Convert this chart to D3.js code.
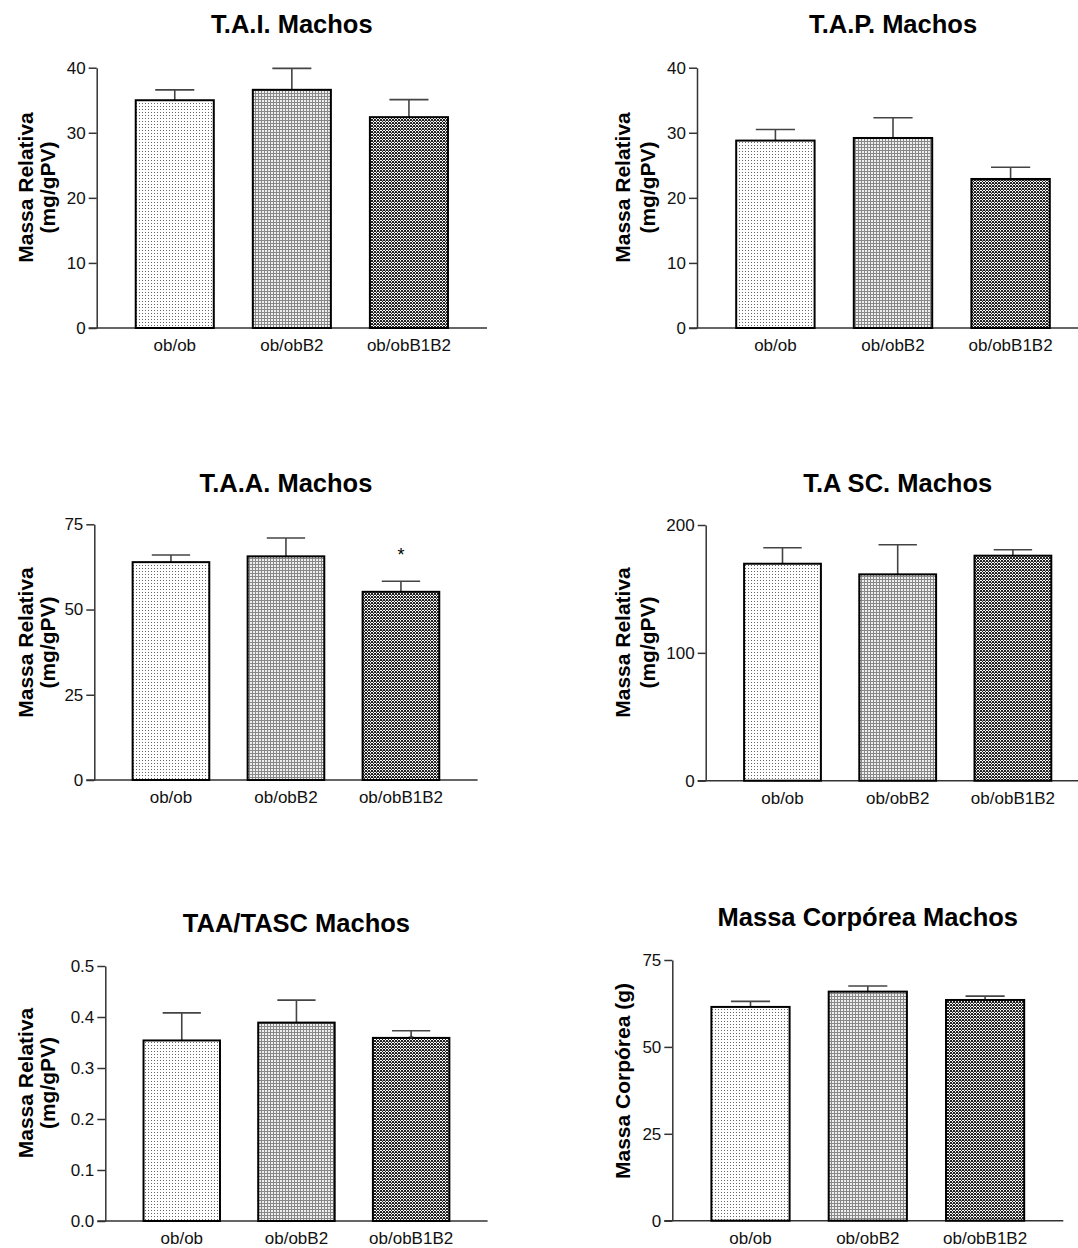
<!DOCTYPE html>
<html>
<head>
<meta charset="utf-8">
<script src="https://cdn.jsdelivr.net/npm/d3@7"></script>
<style>
  html, body { margin: 0; padding: 0; background: #fff; }
  svg { display: block; font-family: Arial, "Liberation Sans", sans-serif; }
</style>
</head>
<body>
<svg id="chart" width="1078" height="1248"></svg>
<script>
  // ===== 数据 =====
  var categories = ['ob/ob', 'ob/obB2', 'ob/obB1B2'];

  var taiMean = [35.0, 36.6, 32.4];
  var taiErr = [1.6, 3.3, 2.7];
  var taiTicks = [0, 10, 20, 30, 40];

  var tapMean = [28.8, 29.2, 22.9];
  var tapErr = [1.7, 3.1, 1.8];
  var tapTicks = [0, 10, 20, 30, 40];

  var taaMean = [63.9, 65.6, 55.2];
  var taaErr = [2.1, 5.4, 3.1];
  var taaTicks = [0, 25, 50, 75];
  var taaMarks = ['', '', '*'];

  var tascMean = [169.7, 161.4, 176.0];
  var tascErr = [12.5, 23.2, 4.7];
  var tascTicks = [0, 100, 200];

  var ratioMean = [0.354, 0.389, 0.359];
  var ratioErr = [0.054, 0.044, 0.014];
  var ratioTicks = [0, 0.1, 0.2, 0.3, 0.4, 0.5];

  var bodyMean = [61.5, 65.9, 63.5];
  var bodyErr = [1.6, 1.6, 1.1];
  var bodyTicks = [0, 25, 50, 75];

  var panels = [
    { title: 'T.A.I. Machos', mean: taiMean, err: taiErr, ticks: taiTicks, fmt: d3.format('d'),
      ylabel: ['Massa Relativa', '(mg/gPV)'] },
    { title: 'T.A.P. Machos', mean: tapMean, err: tapErr, ticks: tapTicks, fmt: d3.format('d'),
      ylabel: ['Massa Relativa', '(mg/gPV)'] },
    { title: 'T.A.A. Machos', mean: taaMean, err: taaErr, ticks: taaTicks, fmt: d3.format('d'),
      ylabel: ['Massa Relativa', '(mg/gPV)'], marks: taaMarks },
    { title: 'T.A SC. Machos', mean: tascMean, err: tascErr, ticks: tascTicks, fmt: d3.format('d'),
      ylabel: ['Massa Relativa', '(mg/gPV)'] },
    { title: 'TAA/TASC Machos', mean: ratioMean, err: ratioErr, ticks: ratioTicks, fmt: d3.format('.1f'),
      ylabel: ['Massa Relativa', '(mg/gPV)'], smallMark: 2 },
    { title: 'Massa Corpórea Machos', mean: bodyMean, err: bodyErr, ticks: bodyTicks, fmt: d3.format('d'),
      ylabel: ['Massa Corpórea (g)'] }
  ];

  // ===== 版面位置（像素）=====
  var layout = [
    { x0: 96.7, x1: 487, yTop: 67.7, yBot: 328, titleY: 33, labelX: [33, 55], labelY: 187.5 },
    { x0: 697, x1: 1089, yTop: 67.7, yBot: 328, titleY: 33, labelX: [630, 655], labelY: 187.5 },
    { x0: 94.3, x1: 477.6, yTop: 524.3, yBot: 780, titleY: 491.5, labelX: [33, 55], labelY: 642.5 },
    { x0: 705.7, x1: 1089.7, yTop: 525, yBot: 780.7, titleY: 491.5, labelX: [630, 655], labelY: 642.5 },
    { x0: 105.3, x1: 487.6, yTop: 966, yBot: 1221, titleY: 932, labelX: [33, 55], labelY: 1083 },
    { x0: 672.3, x1: 1063.3, yTop: 960, yBot: 1220.7, titleY: 926, labelX: [630], labelY: 1081 }
  ];

  var FILLS = ['url(#patDots)', 'url(#patGrid)', 'url(#patCheck)'];
  var AXIS_COLOR = '#333';

  var svg = d3.select('#chart');

  // 填充图案
  var defs = svg.append('defs');

  var pDots = defs.append('pattern').attr('id', 'patDots')
    .attr('patternUnits', 'userSpaceOnUse').attr('width', 3).attr('height', 3);
  pDots.append('rect').attr('width', 3).attr('height', 3).attr('fill', '#fff');
  pDots.append('rect').attr('x', 1).attr('y', 1).attr('width', 1).attr('height', 1).attr('fill', '#666');

  var pGrid = defs.append('pattern').attr('id', 'patGrid')
    .attr('patternUnits', 'userSpaceOnUse').attr('width', 3).attr('height', 3);
  pGrid.append('rect').attr('width', 3).attr('height', 3).attr('fill', '#eee');
  pGrid.append('rect').attr('width', 3).attr('height', 1).attr('fill', '#888');
  pGrid.append('rect').attr('width', 1).attr('height', 3).attr('fill', '#888');

  var pCheck = defs.append('pattern').attr('id', 'patCheck')
    .attr('patternUnits', 'userSpaceOnUse').attr('width', 3).attr('height', 3);
  pCheck.append('rect').attr('width', 3).attr('height', 3).attr('fill', '#fff');
  [[0, 0], [1, 1], [2, 2], [2, 0], [0, 2]].forEach(function (p) {
    pCheck.append('rect').attr('x', p[0]).attr('y', p[1]).attr('width', 1).attr('height', 1).attr('fill', '#222');
  });
  pCheck.append('rect').attr('x', 1).attr('y', 0).attr('width', 1).attr('height', 1).attr('fill', '#999');

  panels.forEach(function (panel, i) {
    var L = layout[i];
    var g = svg.append('g');

    var x = d3.scaleBand()
      .domain(categories)
      .range([L.x0, L.x1])
      .paddingInner(1 / 3)
      .paddingOuter(1 / 3);

    var y = d3.scaleLinear()
      .domain([0, d3.max(panel.ticks)])
      .range([L.yBot, L.yTop]);

    // 标题
    g.append('text')
      .attr('x', (L.x0 + L.x1) / 2)
      .attr('y', L.titleY)
      .attr('text-anchor', 'middle')
      .attr('font-size', 25.5)
      .attr('font-weight', 'bold')
      .attr('fill', '#000')
      .text(panel.title);

    // Y 轴标签
    panel.ylabel.forEach(function (line, k) {
      g.append('text')
        .attr('transform', 'translate(' + L.labelX[k] + ',' + L.labelY + ') rotate(-90)')
        .attr('text-anchor', 'middle')
        .attr('font-size', 21)
        .attr('font-weight', 'bold')
        .attr('fill', '#000')
        .text(line);
    });

    // Y 轴
    var yAxis = g.append('g')
      .attr('transform', 'translate(' + L.x0 + ',0)')
      .call(d3.axisLeft(y)
        .tickValues(panel.ticks)
        .tickFormat(panel.fmt)
        .tickSize(8)
        .tickSizeOuter(0)
        .tickPadding(3));
    yAxis.select('.domain').attr('stroke', AXIS_COLOR).attr('stroke-width', 1.5);
    yAxis.selectAll('.tick line').attr('stroke', AXIS_COLOR).attr('stroke-width', 1.5);
    yAxis.selectAll('.tick text')
      .attr('font-size', 17)
      .attr('font-family', 'Arial, "Liberation Sans", sans-serif')
      .attr('fill', '#111');

    // X 轴（只有基线和类别标签）
    var xAxis = g.append('g')
      .attr('transform', 'translate(0,' + L.yBot + ')')
      .call(d3.axisBottom(x).tickSize(0).tickSizeOuter(0).tickPadding(11));
    xAxis.select('.domain').attr('stroke', AXIS_COLOR).attr('stroke-width', 1.5)
      .attr('d', 'M' + (L.x0 - 8) + ',0H' + L.x1);
    xAxis.selectAll('.tick text')
      .attr('font-size', 17)
      .attr('font-family', 'Arial, "Liberation Sans", sans-serif')
      .attr('fill', '#111');

    // 误差线
    var errG = g.append('g');
    categories.forEach(function (c, j) {
      var cx = x(c) + x.bandwidth() / 2;
      var top = y(panel.mean[j] + panel.err[j]);
      var cap = x.bandwidth() / 4;
      errG.append('line')
        .attr('x1', cx).attr('x2', cx)
        .attr('y1', y(panel.mean[j])).attr('y2', top)
        .attr('stroke', '#444').attr('stroke-width', 1.6);
      errG.append('line')
        .attr('x1', cx - cap).attr('x2', cx + cap)
        .attr('y1', top).attr('y2', top)
        .attr('stroke', '#444').attr('stroke-width', 1.6);
    });

    // 柱子
    g.append('g')
      .selectAll('rect')
      .data(panel.mean)
      .join('rect')
      .attr('x', function (d, j) { return x(categories[j]); })
      .attr('y', function (d) { return y(d); })
      .attr('width', x.bandwidth())
      .attr('height', function (d) { return L.yBot - y(d); })
      .attr('fill', function (d, j) { return FILLS[j]; })
      .attr('stroke', '#000')
      .attr('stroke-width', 2);

    // 显著性标记
    if (panel.marks) {
      panel.marks.forEach(function (m, j) {
        if (!m) return;
        g.append('text')
          .attr('x', x(categories[j]) + x.bandwidth() / 2)
          .attr('y', y(panel.mean[j] + panel.err[j]) - 20)
          .attr('text-anchor', 'middle')
          .attr('font-size', 18)
          .attr('fill', '#000')
          .text(m);
      });
    }
    if (panel.smallMark != null) {
      var j = panel.smallMark;
      g.append('text')
        .attr('x', x(categories[j]) + x.bandwidth() / 2)
        .attr('y', y(panel.mean[j]) + 6)
        .attr('text-anchor', 'middle')
        .attr('font-size', 13)
        .attr('fill', '#333')
        .text('*');
    }
  });
</script>
</body>
</html>
